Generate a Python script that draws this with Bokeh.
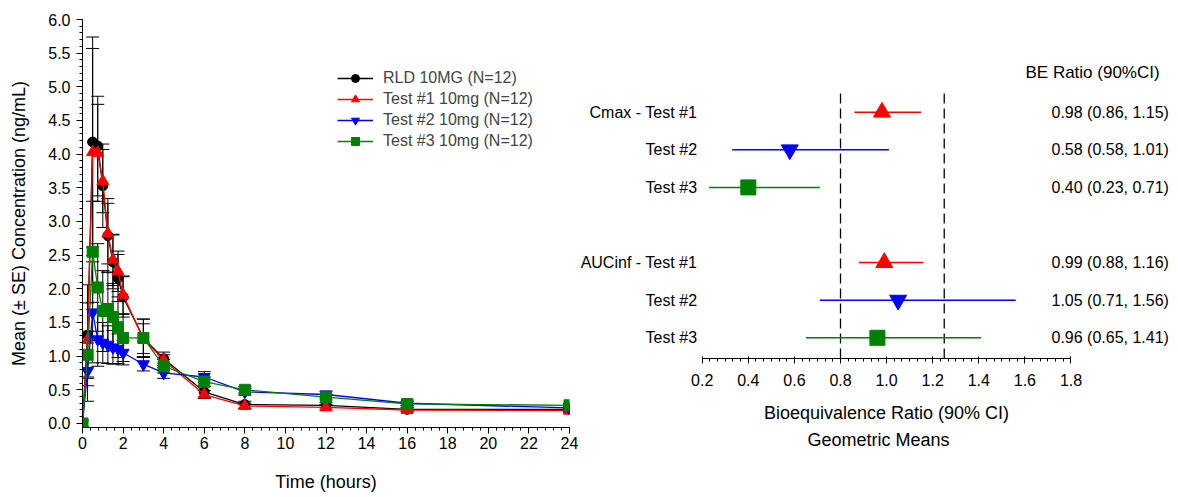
from bokeh.plotting import figure
from bokeh.layouts import row
from bokeh.models import (ColumnDataSource, Whisker, TeeHead, Legend, LegendItem,
                          SingleIntervalTicker, FixedTicker, Range1d, PrintfTickFormatter,
                          LabelSet, Title)
from bokeh.core.properties import value
from bokeh.embed import file_html
from bokeh.resources import INLINE

FONT = "Liberation Sans"

# ---------------- PK profile data ----------------
time_h = [0, 0.25, 0.5, 0.75, 1, 1.25, 1.5, 1.75, 2, 3, 4, 6, 8, 12, 16, 24]

series_names = ["RLD 10MG (N=12)", "Test #1 10mg (N=12)",
                "Test #2 10mg (N=12)", "Test #3 10mg (N=12)"]

rld_mean = [0, 1.31, 4.18, 4.12, 3.53, 2.79, 2.40, 2.16, 1.88, 1.27, 0.96, 0.47, 0.28, 0.27, 0.21, 0.21]
rld_se = [0, 0.75, 1.56, 0.74, 0.62, 0.55, 0.40, 0.35, 0.30, 0.28, 0.10, 0.08, 0.05, 0.04, 0.03, 0.03]

t1_mean = [0, 1.24, 4.03, 4.02, 3.60, 2.82, 2.43, 2.26, 1.91, 1.26, 0.94, 0.43, 0.26, 0.24, 0.20, 0.19]
t1_se = [0, 0.55, 1.54, 0.72, 0.47, 0.45, 0.38, 0.30, 0.28, 0.22, 0.08, 0.06, 0.04, 0.04, 0.03, 0.03]

t2_mean = [0, 0.78, 1.65, 1.25, 1.20, 1.17, 1.13, 1.11, 1.05, 0.88, 0.75, 0.69, 0.47, 0.43, 0.30, 0.23]
t2_se = [0, 0.45, 0.75, 0.40, 0.30, 0.28, 0.25, 0.22, 0.18, 0.10, 0.08, 0.08, 0.05, 0.05, 0.03, 0.03]

t3_mean = [0, 1.02, 2.55, 2.02, 1.67, 1.70, 1.58, 1.43, 1.27, 1.27, 0.85, 0.62, 0.50, 0.39, 0.29, 0.27]
t3_se = [0, 0.35, 0.75, 0.65, 0.60, 0.55, 0.50, 0.45, 0.35, 0.28, 0.10, 0.07, 0.05, 0.04, 0.03, 0.03]

# ---------------- BE forest data ----------------
be_labels = ["Cmax - Test #1", "Test #2", "Test #3",
             "AUCinf - Test #1", "Test #2", "Test #3"]
be_group = [0, 0, 0, 1, 1, 1]
be_ratio = [0.98, 0.58, 0.40, 0.99, 1.05, 0.96]
be_lower = [0.86, 0.33, 0.23, 0.88, 0.71, 0.65]
be_upper = [1.15, 1.01, 0.71, 1.16, 1.56, 1.41]
be_text = ["0.98 (0.86, 1.15)", "0.58 (0.58, 1.01)", "0.40 (0.23, 0.71)",
           "0.99 (0.88, 1.16)", "1.05 (0.71, 1.56)", "0.96 (0.65, 1.41)"]
be_header = "BE Ratio (90%CI)"
be_xlabel = ["Bioequivalence Ratio (90% CI)", "Geometric Means"]
be_limits = [0.8, 1.25]
be_ticks = [0.2, 0.4, 0.6, 0.8, 1.0, 1.2, 1.4, 1.6, 1.8]

colors = ["black", "#ff0000", "#0000ff", "#008000"]
markers = ["circle", "triangle", "inverted_triangle", "square"]
msizes = [10, 12, 12, 11]

H = 496


def style_axis(ax, tick_size="16px", label_size="18px"):
    ax.axis_line_color = "black"
    ax.axis_line_width = 1
    ax.major_tick_line_color = "black"
    ax.minor_tick_line_color = "black"
    ax.major_tick_in = 0
    ax.major_tick_out = 6
    ax.minor_tick_in = 0
    ax.minor_tick_out = 3
    ax.major_label_text_font = FONT
    ax.major_label_text_font_size = tick_size
    ax.major_label_text_color = "black"
    ax.axis_label_text_font = FONT
    ax.axis_label_text_font_size = label_size
    ax.axis_label_text_font_style = "normal"
    ax.axis_label_text_color = "black"


# ---------------- left: concentration-time ----------------
left = figure(width=578, height=H, output_backend="svg", toolbar_location=None,
              x_range=Range1d(0, 24), y_range=Range1d(-0.06, 6.0),
              min_border_left=82, min_border_right=9, min_border_top=19,
              min_border_bottom=69)
left.xgrid.visible = False
left.ygrid.visible = False
left.outline_line_color = None

left.xaxis.ticker = SingleIntervalTicker(interval=2, num_minor_ticks=5)
left.yaxis.ticker = SingleIntervalTicker(interval=0.5, num_minor_ticks=5)
left.yaxis.formatter = PrintfTickFormatter(format="%.1f")
style_axis(left.xaxis[0])
style_axis(left.yaxis[0])
left.xaxis.axis_label = "Time (hours)"
left.yaxis.axis_label = "Mean (± SE) Concentration (ng/mL)"
left.xaxis.major_label_standoff = 3
left.xaxis.axis_label_standoff = 20
left.yaxis.major_label_standoff = 6
left.yaxis.axis_label_standoff = 16

all_means = [rld_mean, t1_mean, t2_mean, t3_mean]
all_se = [rld_se, t1_se, t2_se, t3_se]

for mean, se in zip(all_means, all_se):
    t_e = [t for t, s in zip(time_h, se) if s > 0]
    up = [m + s for m, s in zip(mean, se) if s > 0]
    lo = [m - s for m, s in zip(mean, se) if s > 0]
    esrc = ColumnDataSource(dict(t=t_e, up=up, lo=lo))
    w = Whisker(source=esrc, base="t", upper="up", lower="lo", dimension="height",
                line_color="black", line_width=1,
                upper_head=TeeHead(size=13, line_color="black", line_width=1),
                lower_head=TeeHead(size=13, line_color="black", line_width=1))
    left.add_layout(w)

legend_items = []
for name, mean, col, mk, ms in zip(series_names, all_means, colors, markers, msizes):
    src = ColumnDataSource(dict(t=time_h, y=mean))
    lr = left.line("t", "y", source=src, line_color=col, line_width=1.3)
    sr = left.scatter("t", "y", source=src, marker=mk, size=ms,
                      fill_color=col, line_color=col)
    legend_items.append(LegendItem(label=name, renderers=[lr, sr]))

legend = Legend(items=legend_items, location=(255, 276),
                border_line_color=None, background_fill_alpha=0,
                label_text_font=FONT, label_text_font_size="16px",
                glyph_width=36, glyph_height=20, label_height=20,
                spacing=1, padding=0, margin=0, label_standoff=10)
left.add_layout(legend)

# ---------------- right: BE forest plot ----------------
rows_pos = [i + 1 + g for i, g in enumerate(be_group)]
axis_row = 7.558

right = figure(width=600, height=H, output_backend="svg", toolbar_location=None,
               x_range=Range1d(-0.3367, 2.2664), y_range=Range1d(9.386, -1.465),
               y_axis_location=None,
               min_border_left=0, min_border_right=0, min_border_top=19,
               min_border_bottom=69)
right.xgrid.visible = False
right.ygrid.visible = False
right.outline_line_color = None

minor = [round(0.2 + i * (0.2 / 6), 4) for i in range(49)]
right.xaxis.ticker = FixedTicker(ticks=be_ticks, minor_ticks=minor)
right.xaxis.formatter = PrintfTickFormatter(format="%.1f")
right.xaxis.bounds = (min(be_ticks), max(be_ticks))
right.xaxis.fixed_location = axis_row
style_axis(right.xaxis[0])
right.xaxis.major_tick_in = 2
right.xaxis.major_tick_out = 5
right.xaxis.major_label_standoff = 10
right.xaxis.axis_label = be_xlabel[0]
right.xaxis.axis_label_standoff = 14

right.add_layout(Title(text=be_xlabel[1], align="center", text_font=FONT,
                       text_font_size="18px", text_font_style="normal",
                       text_color="black", standoff=0, offset=0), "below")

# reference limits (dashed)
right.segment(x0=be_limits, x1=be_limits, y0=[0.5] * len(be_limits),
              y1=[axis_row] * len(be_limits), line_color="black", line_width=1.3,
              line_dash="10 5")

fsrc = ColumnDataSource(dict(
    y=rows_pos, r=be_ratio, lo=be_lower, hi=be_upper,
    col=[colors[1], colors[2], colors[3]] * 2,
    mk=[markers[1], markers[2], markers[3]] * 2,
    ms=[17, 17, 15] * 2,
    lab=be_labels, txt=be_text,
    lx=[0.178] * len(be_labels), tx=[1.7155] * len(be_labels),
))
right.segment(x0="lo", x1="hi", y0="y", y1="y", source=fsrc,
              line_color="col", line_width=1.5)
right.scatter("r", "y", source=fsrc, marker="mk", size="ms",
              fill_color="col", line_color="col")

right.add_layout(LabelSet(x="lx", y="y", text="lab", source=fsrc, text_align="right",
                          text_baseline="middle", text_font=value(FONT),
                          text_font_size=value("16px"), text_color="black"))
right.add_layout(LabelSet(x="tx", y="y", text="txt", source=fsrc, text_align="left",
                          text_baseline="middle", text_font=value(FONT),
                          text_font_size=value("16px"), text_color="black"))
hsrc = ColumnDataSource(dict(x=[1.6026], y=[-0.064], t=[be_header]))
right.add_layout(LabelSet(x="x", y="y", text="t", source=hsrc, text_align="left",
                          text_baseline="middle", text_font=value(FONT),
                          text_font_size=value("17px"), text_color="black"))

layout = row(left, right)
open("out.html", "w").write(file_html(layout, INLINE))
